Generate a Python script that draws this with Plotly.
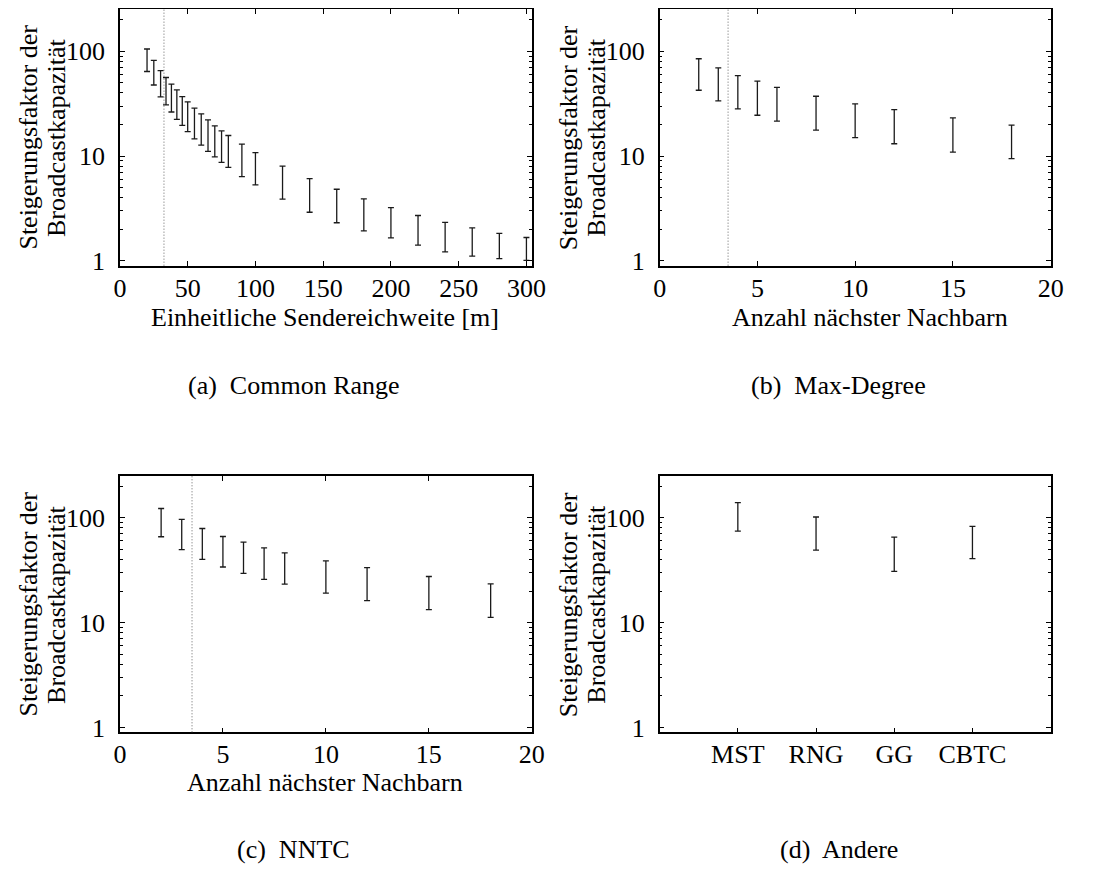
import math
import plotly.graph_objects as go

# ---------------- data ----------------
# (a) Common Range
range_m = [20, 25, 30, 34, 38, 42, 46, 50, 55, 60, 65, 70, 75, 80, 90, 100,
           120, 140, 160, 180, 200, 220, 240, 260, 280, 300]
range_hi = [105, 81.6, 65.3, 56.1, 48.6, 42.7, 36.9, 32.9, 28.7, 25.2, 22.1, 19.4,
            17.4, 15.7, 13.0, 10.8, 8.0, 6.08, 4.82, 3.91, 3.22, 2.71, 2.33, 2.06, 1.83, 1.67]
range_lo = [64, 47.6, 36.6, 30.8, 26.3, 22.4, 19.6, 17.1, 14.6, 12.7, 11.1, 9.8,
            8.7, 7.8, 6.35, 5.3, 3.88, 2.91, 2.31, 1.93, 1.66, 1.41, 1.22, 1.11, 1.05, 1.01]
range_marker = 32.5

# (b) Max-Degree
md_k = [2, 3, 4, 5, 6, 8, 10, 12, 15, 18]
md_hi = [84.7, 69.2, 58.6, 51.9, 45.2, 37.2, 31.5, 27.7, 23.1, 19.7]
md_lo = [42.4, 33.6, 28.2, 24.5, 21.5, 17.7, 15.0, 13.1, 10.9, 9.44]
md_marker = 3.5

# (c) NNTC
nn_k = [2, 3, 4, 5, 6, 7, 8, 10, 12, 15, 18]
nn_hi = [122.4, 96.4, 78.9, 66.2, 58.6, 51.5, 46.2, 38.8, 33.4, 27.5, 23.4]
nn_lo = [65.8, 49.7, 40.0, 33.9, 29.5, 25.8, 23.3, 19.1, 16.2, 13.3, 11.2]
nn_marker = 3.5

# (d) Andere
other_names = ["MST", "RNG", "GG", "CBTC"]
other_hi = [139.4, 101.5, 65.3, 82.8]
other_lo = [74.3, 49.0, 30.8, 40.8]

y_title_lines = ["Steigerungsfaktor der", "Broadcastkapazität"]
captions = ["(a)  Common Range", "(b)  Max-Degree", "(c)  NNTC", "(d)  Andere"]
x_titles = ["Einheitliche Sendereichweite [m]", "Anzahl nächster Nachbarn",
            "Anzahl nächster Nachbarn"]

# ---------------- styling / layout (reference pixel coordinates) ----------------
PAGE_MARGIN = 8          # browser body margin
W, H = 1090, 858         # figure size inside the page
FONT = "Liberation Serif"
FS = 26
BAR_COLOR = "#1a1a1a"

def px_x(p):
    return (p - PAGE_MARGIN) / W

def px_y(p):
    return 1 - (p - PAGE_MARGIN) / H

dom_x = [(px_x(115), px_x(535)), (px_x(665.3), px_x(1064))]
dom_y = [(px_y(268), px_y(8.5)), (px_y(740.7), px_y(481))]

fig = go.Figure()

def add_err(xs, lo, hi, xa, ya):
    mid = [math.sqrt(a * b) for a, b in zip(lo, hi)]
    fig.add_trace(go.Scatter(
        x=xs, y=mid, mode="markers",
        marker=dict(size=1, opacity=0),
        error_y=dict(type="data", symmetric=False,
                     array=[h - m for h, m in zip(hi, mid)],
                     arrayminus=[m - l for m, l in zip(mid, lo)],
                     color=BAR_COLOR, thickness=1.3, width=3),
        xaxis=xa, yaxis=ya, showlegend=False, hoverinfo="skip"))

add_err(range_m, range_lo, range_hi, "x", "y")
add_err(md_k, md_lo, md_hi, "x2", "y2")
add_err(nn_k, nn_lo, nn_hi, "x3", "y3")
add_err(other_names, other_lo, other_hi, "x4", "y4")

yr = [math.log10(0.9), math.log10(250)]
tickfont = dict(family=FONT, size=FS, color="black")

def yaxis_cfg(dy, anchor):
    return dict(domain=list(dy), anchor=anchor, type="log", range=yr, dtick=1,
                ticks="inside", ticklen=5, tickwidth=1, tickcolor="black",
                minor=dict(ticks="inside", ticklen=3, tickwidth=1, dtick="D1",
                           tickcolor="black", showgrid=False),
                mirror="allticks", showline=True, linecolor="black", linewidth=1.5,
                showgrid=False, zeroline=False, tickfont=tickfont,
                ticklabelstandoff=8)

def xaxis_cfg(dx, anchor, rng, dtick=None, cat=False):
    d = dict(domain=list(dx), anchor=anchor, range=rng,
             ticks="inside", ticklen=5, tickwidth=1, tickcolor="black",
             mirror=True if cat else "allticks",
             showline=True, linecolor="black", linewidth=1.5,
             showgrid=False, zeroline=False, tickfont=tickfont,
             ticklabelstandoff=-2)
    if dtick is not None:
        d["dtick"] = dtick
        d["tick0"] = 0
    if cat:
        d["type"] = "category"
    return d

fig.update_layout(
    width=W, height=H, margin=dict(l=0, r=0, t=0, b=0),
    paper_bgcolor="white", plot_bgcolor="white",
    xaxis=xaxis_cfg(dom_x[0], "y", [0, 304], 50),
    yaxis=yaxis_cfg(dom_y[0], "x"),
    xaxis2=xaxis_cfg(dom_x[1], "y2", [0, 20], 5),
    yaxis2=yaxis_cfg(dom_y[0], "x2"),
    xaxis3=xaxis_cfg(dom_x[0], "y3", [0, 20], 5),
    yaxis3=yaxis_cfg(dom_y[1], "x3"),
    xaxis4=xaxis_cfg(dom_x[1], "y4", [-1, 4], None, cat=True),
    yaxis4=yaxis_cfg(dom_y[1], "x4"),
)

# dotted marker lines
for xv, xr, yr_ in [(range_marker, "x", "y domain"), (md_marker, "x2", "y2 domain"),
                    (nn_marker, "x3", "y3 domain")]:
    fig.add_shape(type="line", x0=xv, x1=xv, y0=0, y1=1, xref=xr, yref=yr_,
                  line=dict(color="#666666", width=1, dash="1px,2px"))

def text(txt, cx, cy, angle=0):
    fig.add_annotation(text=txt, x=px_x(cx), y=px_y(cy), xref="paper", yref="paper",
                       showarrow=False, xanchor="center", yanchor="middle",
                       textangle=angle, font=dict(family=FONT, size=FS, color="black"))

# y-axis titles (two lines each)
for left, cy in [(115, 138), (665.3, 138), (115, 611), (665.3, 611)]:
    text(y_title_lines[0], left - 93.5, cy, -90)
    text(y_title_lines[1], left - 64.5, cy, -90)

# x-axis titles
for txt, (cx, cy) in zip(x_titles, [(324, 320.5), (880, 320), (324, 792)]):
    text(txt, cx, cy)

# captions
for txt, (cx, cy) in zip(captions, [(292, 389.5), (848, 389.5), (292, 859), (848, 859)]):
    text(txt, cx, cy)

fig.write_html("out.html")
